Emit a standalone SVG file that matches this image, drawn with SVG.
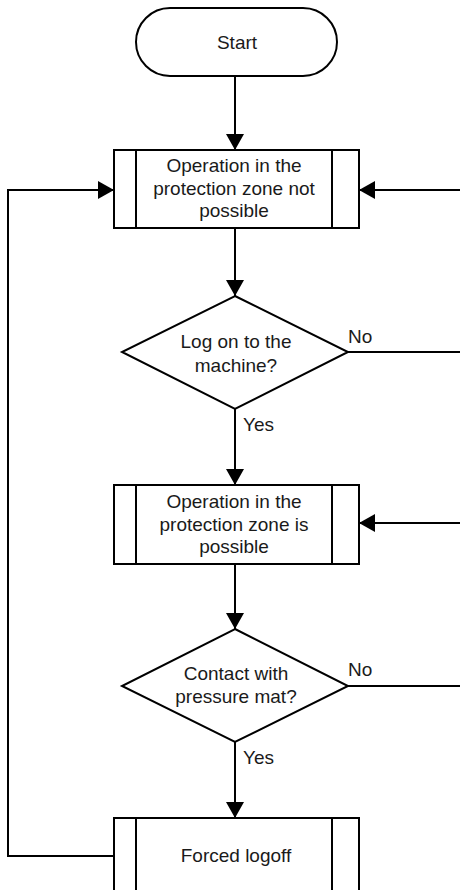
<svg xmlns="http://www.w3.org/2000/svg" width="460" height="890" viewBox="0 0 460 890">
<style>
.s{fill:#fff;stroke:#000;stroke-width:2}
.l{fill:none;stroke:#000;stroke-width:2}
text{font-family:"Liberation Sans",Arial,sans-serif;font-size:19px;fill:#1a1a1a}
.c{text-anchor:middle}
</style>
<defs>
<marker id="ah" viewBox="0 0 16 18" refX="16" refY="9" markerWidth="16" markerHeight="18" markerUnits="userSpaceOnUse" orient="auto">
<path d="M0,0 L16,9 L0,18 z" fill="#000"/>
</marker>
</defs>
<g id="connectors">
<line class="l" x1="235" y1="77" x2="235" y2="150" marker-end="url(#ah)"/>
<line class="l" x1="235" y1="228" x2="235" y2="296" marker-end="url(#ah)"/>
<line class="l" x1="235" y1="409" x2="235" y2="485" marker-end="url(#ah)"/>
<line class="l" x1="235" y1="564" x2="235" y2="629" marker-end="url(#ah)"/>
<line class="l" x1="235" y1="742" x2="235" y2="818" marker-end="url(#ah)"/>
<line class="l" x1="460" y1="190" x2="359" y2="190" marker-end="url(#ah)"/>
<line class="l" x1="460" y1="523" x2="359" y2="523" marker-end="url(#ah)"/>
<line class="l" x1="348" y1="352" x2="460" y2="352"/>
<line class="l" x1="348" y1="686" x2="460" y2="686"/>
<polyline class="l" points="114,856 8,856 8,190 114,190" marker-end="url(#ah)"/>
<text x="348" y="343">No</text>
<text x="243" y="431">Yes</text>
<text x="348" y="676">No</text>
<text x="243" y="764">Yes</text>
</g>
<g id="start">
<rect class="s" x="136" y="8" width="201" height="68" rx="34" ry="34"/>
<text class="c" x="237" y="49">Start</text>
</g>
<g id="op-not-possible">
<rect class="s" x="114" y="150" width="245" height="78"/>
<line class="l" x1="136" y1="150" x2="136" y2="228"/>
<line class="l" x1="332" y1="150" x2="332" y2="228"/>
<text class="c" x="234" y="172">Operation in the</text>
<text class="c" x="234" y="194.5">protection zone not</text>
<text class="c" x="234" y="217">possible</text>
</g>
<g id="log-on">
<polygon class="s" points="235,296 348,352 235,409 122,352"/>
<text class="c" x="236" y="348">Log on to the</text>
<text class="c" x="236" y="372">machine?</text>
</g>
<g id="op-possible">
<rect class="s" x="114" y="485" width="245" height="79"/>
<line class="l" x1="136" y1="485" x2="136" y2="564"/>
<line class="l" x1="332" y1="485" x2="332" y2="564"/>
<text class="c" x="234" y="508">Operation in the</text>
<text class="c" x="234" y="530.5">protection zone is</text>
<text class="c" x="234" y="553">possible</text>
</g>
<g id="contact">
<polygon class="s" points="235,629 348,686 235,742 122,686"/>
<text class="c" x="236" y="680">Contact with</text>
<text class="c" x="236" y="703">pressure mat?</text>
</g>
<g id="forced-logoff">
<rect class="s" x="114" y="818" width="245" height="82"/>
<line class="l" x1="136" y1="818" x2="136" y2="900"/>
<line class="l" x1="332" y1="818" x2="332" y2="900"/>
<text class="c" x="236" y="862">Forced logoff</text>
</g>
</svg>
